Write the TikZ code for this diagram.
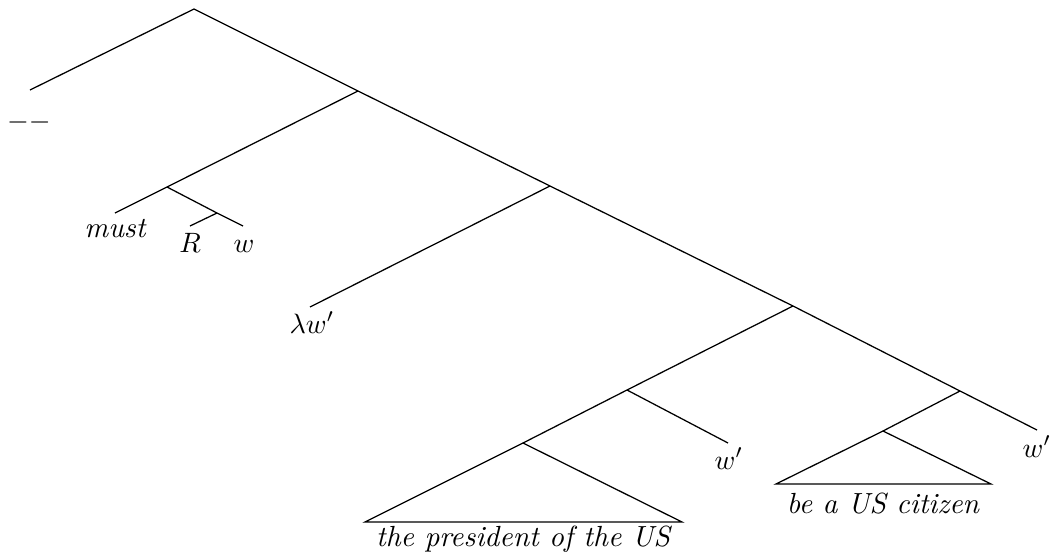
\documentclass[tikz,border=0pt]{standalone}
\begin{document}
\begin{tikzpicture}[x=0.357pt,y=-0.357pt,
  edge/.style={line width=0.45pt},
  lbl/.style={inner sep=0pt,anchor=base,font=\fontsize{10.4}{12.5}\selectfont\itshape}]
\useasboundingbox (0,0) rectangle (1051,558);
% tree points
\coordinate (root) at (194,9);
\coordinate (dashend) at (30,90);
\coordinate (X) at (358,91);
\coordinate (Y) at (167,187);
\coordinate (mustend) at (115,213);
\coordinate (Z) at (217,213);
\coordinate (Rend) at (190,226);
\coordinate (wend) at (243,226);
\coordinate (N2) at (550,186);
\coordinate (lamend) at (310,307);
\coordinate (N3) at (793,306);
\coordinate (N4) at (627,390);
\coordinate (T1) at (523,443);
\coordinate (T1l) at (365,522);
\coordinate (T1r) at (682,522);
\coordinate (w1end) at (728,443);
\coordinate (N5) at (960,391);
\coordinate (T2) at (883,431);
\coordinate (T2l) at (776,484);
\coordinate (T2r) at (991,484);
\coordinate (w2end) at (1037,430);
% labels
\node[lbl] (dash) at (29,129) {$--$};
\node[lbl] (must) at (115,237) {must};
\node[lbl] (R) at (190,252) {$R$};
\node[lbl] (w) at (244,252) {$w$};
\node[lbl] (lam) at (312,333) {$\lambda w'$};
\node[lbl] (w1) at (729,469) {$w'$};
\node[lbl] (w2) at (1037,457) {$w'$};
\node[lbl] (t1) at (523,546) {the president of the US};
\node[lbl] (t2) at (883,513) {be a US citizen};
% edges
\draw[edge] (dashend) -- (root) -- (X) -- (N2) -- (N3) -- (N5) -- (w2end);
\draw[edge] (X) -- (Y) -- (mustend);
\draw[edge] (Y) -- (Z) -- (wend);
\draw[edge] (Z) -- (Rend);
\draw[edge] (N2) -- (lamend);
\draw[edge] (N3) -- (N4) -- (T1);
\draw[edge] (N4) -- (w1end);
\draw[edge] (T1) -- (T1l) -- (T1r) -- cycle;
\draw[edge] (N5) -- (T2);
\draw[edge] (T2) -- (T2l) -- (T2r) -- cycle;
\end{tikzpicture}
\end{document}
